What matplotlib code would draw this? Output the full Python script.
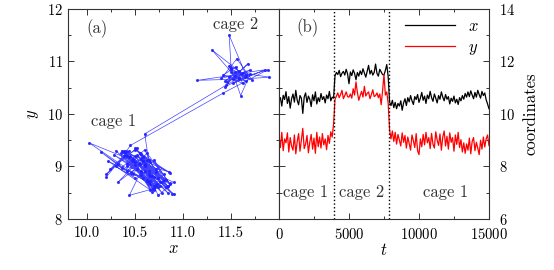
import matplotlib
matplotlib.use('Agg')
import matplotlib.pyplot as plt
from matplotlib.ticker import MultipleLocator

# time axis of the trajectory (one sample per 100 steps)
t = list(range(0, 15001, 100))

# x coordinate: cage 1 (t < 4000), cage 2 (4000..7800), back to cage 1
x = [10.48, 10.62, 10.30, 10.71, 10.55, 10.85, 10.40, 10.66, 10.22, 10.58,
     10.76, 10.45, 10.90, 10.52, 10.35, 10.70, 10.60, 10.02, 10.64, 10.80,
     10.44, 10.68, 10.56, 10.28, 10.73, 10.50, 10.84, 10.38, 10.62, 10.47,
     10.78, 10.55, 10.66, 10.42, 10.72, 10.58, 10.86, 10.50, 10.64, 10.60,
     11.45, 11.58, 11.50, 11.66, 11.42, 11.55, 11.62, 11.48, 11.70, 11.52,
     11.15, 11.60, 11.46, 11.68, 11.54, 11.30, 11.58, 11.44, 11.64, 11.50,
     11.72, 11.56, 11.40, 11.62, 11.85, 11.52, 11.66, 11.48, 11.58, 11.90,
     11.54, 11.44, 11.70, 11.60, 11.50, 11.48, 11.66, 11.88, 11.42,
     10.45, 10.32, 10.52, 10.24, 10.44, 10.20, 10.40, 10.30, 10.50, 10.14,
     10.42, 10.58, 10.32, 10.62, 10.46, 10.70, 10.50, 10.36, 10.66, 10.55,
     10.74, 10.44, 10.60, 10.82, 10.52, 10.68, 10.40, 10.72, 10.58, 10.86,
     10.62, 10.48, 10.76, 10.60, 10.42, 10.70, 10.56, 10.84, 10.64, 10.50,
     10.74, 10.56, 10.66, 10.38, 10.60, 10.48, 10.68, 10.42, 10.56, 10.36,
     10.62, 10.50, 10.70, 10.56, 10.78, 10.64, 10.84, 10.66, 10.88, 10.72,
     10.58, 10.82, 10.64, 10.90, 10.74, 10.60, 10.86, 10.70, 10.80, 10.54,
     10.38, 10.20]

# y coordinate, same samples
y = [9.15, 8.72, 9.30, 8.60, 9.05, 8.90, 9.28, 8.55, 9.10, 8.78,
     8.62, 9.20, 8.48, 8.95, 9.25, 8.58, 9.02, 9.45, 8.68, 8.85,
     9.18, 8.52, 8.92, 9.22, 8.66, 9.08, 8.50, 9.30, 8.75, 9.12,
     8.70, 9.25, 8.82, 9.05, 8.64, 9.18, 8.88, 9.32, 9.12, 9.62,
     10.55, 10.68, 10.80, 10.62, 10.74, 10.90, 10.58, 10.70, 10.84, 10.66,
     10.64, 10.76, 10.60, 10.96, 10.72, 11.22, 10.82, 10.52, 10.70, 10.86,
     10.64, 11.05, 10.68, 10.78, 10.84, 10.58, 10.74, 10.92, 10.66, 10.70,
     10.80, 10.62, 10.76, 10.35, 10.88, 11.50, 10.72, 10.84, 10.40,
     9.40, 9.05, 9.35, 8.95, 9.30, 8.85, 9.22, 9.00, 8.78, 9.28,
     8.92, 9.18, 8.70, 9.12, 8.88, 8.62, 9.20, 8.98, 8.72, 9.25,
     8.60, 8.45, 9.05, 8.75, 9.22, 8.82, 9.30, 8.90, 9.10, 8.68,
     9.26, 8.85, 8.70, 9.32, 9.00, 8.80, 9.24, 8.62, 9.12, 9.35,
     8.78, 9.15, 8.66, 9.28, 8.92, 9.10, 8.58, 9.20, 8.84, 9.30,
     8.72, 9.02, 8.55, 8.90, 8.50, 8.86, 8.62, 9.08, 8.48, 8.95,
     9.10, 8.60, 8.92, 8.70, 8.45, 9.00, 8.66, 9.12, 8.74, 9.05,
     9.20, 8.80]

# times where the particle hops between cages
hops = [3950, 7850]

plt.rcParams['font.family'] = 'serif'
plt.rcParams['font.serif'] = ['cmr10', 'DejaVu Serif']
plt.rcParams['mathtext.fontset'] = 'cm'
plt.rcParams['axes.formatter.use_mathtext'] = True
plt.rcParams['font.size'] = 10.5

fig = plt.figure(figsize=(5.54, 2.70), dpi=100)
ax1 = fig.add_axes([0.1227, 0.189, 0.381, 0.778])
ax2 = fig.add_axes([0.5036, 0.189, 0.379, 0.778])

for ax in (ax1, ax2):
    for s in ax.spines.values():
        s.set_linewidth(0.8)
        s.set_color('#333333')
    ax.tick_params(which='both', direction='in', top=True, bottom=True,
                   left=True, right=True, color='#333333', width=0.7)
    ax.tick_params(which='major', length=4)
    ax.tick_params(which='minor', length=2)
    ax.tick_params(axis='x', pad=5.5)

# panel (a): trajectory in the plane
ax1.plot(x, y, color='#2222ff', lw=0.5, marker='.', ms=2.5, alpha=0.85)
ax1.set_xlim(9.8, 12.0)
ax1.set_ylim(8, 12)
ax1.set_xticks([10.0, 10.5, 11.0, 11.5])
ax1.xaxis.set_minor_locator(MultipleLocator(0.25))
ax1.yaxis.set_major_locator(MultipleLocator(1))
ax1.yaxis.set_minor_locator(MultipleLocator(0.5))
ax1.set_xticklabels(['10.0', '10.5', '11.0', '11.5'])
ax1.set_xlabel(r'$x$', fontsize=12, labelpad=0)
ax1.set_ylabel(r'$y$', fontsize=12, labelpad=4)
ax1.text(10.10, 11.62, '(a)', fontsize=12, ha='center', va='center', color='#333333')
ax1.text(11.55, 11.71, 'cage 2', fontsize=12, ha='center', va='center', color='#333333')
ax1.text(10.27, 9.85, 'cage 1', fontsize=12, ha='center', va='center', color='#333333')

# panel (b): coordinates versus time
ax2.plot(t, x, color='black', lw=0.9, label=r'$x$')
ax2.plot(t, y, color='red', lw=0.9, label=r'$y$')
for h in hops:
    ax2.axvline(h, color='black', ls=':', lw=1.0)
ax2.set_xlim(0, 15000)
ax2.set_ylim(6, 14)
ax2.set_xticks([0, 5000, 10000, 15000])
ax2.xaxis.set_minor_locator(MultipleLocator(2500))
ax2.yaxis.set_major_locator(MultipleLocator(2))
ax2.yaxis.set_minor_locator(MultipleLocator(1))
ax2.yaxis.tick_right()
ax2.tick_params(which='both', left=True, labelleft=False, labelright=True)
ax2.tick_params(axis='y', pad=7)
ax2.yaxis.set_label_position('right')
ax2.set_ylabel('coordinates', fontsize=12, labelpad=6)
ax2.set_xlabel(r'$t$', fontsize=12, labelpad=0)
ax2.text(2070, 13.3, '(b)', fontsize=12, ha='center', va='center', color='#333333')
ax2.text(1930, 7.0, 'cage 1', fontsize=12, ha='center', va='center', color='#333333')
ax2.text(5930, 7.0, 'cage 2', fontsize=12, ha='center', va='center', color='#333333')
ax2.text(11930, 7.0, 'cage 1', fontsize=12, ha='center', va='center', color='#333333')
ax2.legend(loc='upper right', frameon=False, fontsize=12, handlelength=3.0,
           borderaxespad=0.2, labelspacing=0.3)

fig.savefig('out.png', dpi=100)
